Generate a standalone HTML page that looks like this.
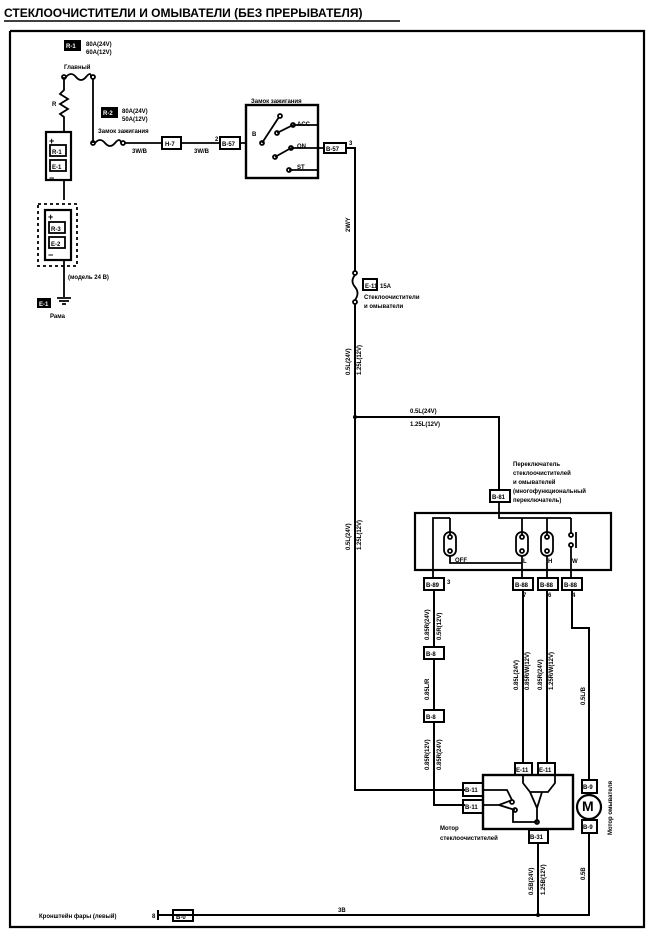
<!DOCTYPE html>
<html><head><meta charset="utf-8"><style>
html,body{margin:0;padding:0;background:#fff}
svg{display:block}
text{font-family:"Liberation Sans",sans-serif;font-weight:bold}
</style></head><body>
<svg width="650" height="938" viewBox="0 0 650 938" xmlns="http://www.w3.org/2000/svg">
<g fill="none" stroke="#000" stroke-width="1.8">
<path d="M10 31H632V31 M10 31V927H644V31H632" stroke-width="2.2"/>
<line x1="4" y1="21" x2="400" y2="21" stroke-width="1.5"/>
<path d="M64 77V90 l-4 4 8 5 -8 5 8 5 -8 5 4 3V133"/>
<circle cx="64" cy="77" r="2"/><circle cx="93" cy="77" r="2"/>
<path d="M66 77 q5 -6 10 0 t10 0 t5 0"/>
<rect x="46" y="132" width="25" height="48" stroke-width="2.2"/>
<rect x="50" y="145" width="16" height="11"/><rect x="50" y="160" width="16" height="11"/>
<path d="M64 180V200"/>
<rect x="38" y="204" width="39" height="62" stroke-dasharray="3,3"/>
<rect x="45" y="210" width="26" height="50" stroke-width="2.2"/>
<rect x="49" y="222" width="16" height="11"/><rect x="49" y="237" width="16" height="11"/>
<path d="M64 260V297"/>
<path d="M57 298H71 M59 301H69 M62 304H66"/>
<path d="M93 79V143"/>
<circle cx="93" cy="143" r="2"/><circle cx="123" cy="143" r="2"/>
<path d="M95 143 q5 -6 10 0 t10 0 t6 0"/>
<path d="M125 143H162 M181 143H220 M240 143H246"/>
<rect x="162" y="137" width="19" height="12" stroke-width="2"/>
<rect x="220" y="137" width="20" height="12" stroke-width="2"/>
<rect x="246" y="105" width="72" height="73" stroke-width="2.4"/>
<path d="M262 143 L279 117 M277 133 L293 125 M275 157 L291 148 M293 125H318 M291 148H324 M289 170H318"/>
<circle cx="262" cy="143" r="2"/><circle cx="280" cy="116" r="2"/><circle cx="277" cy="133" r="2"/><circle cx="293" cy="125" r="2"/><circle cx="275" cy="157" r="2"/><circle cx="291" cy="148" r="2"/><circle cx="289" cy="170" r="2"/>
<rect x="324" y="143" width="22" height="10" stroke-width="2"/>
<path d="M346 148H355V272" stroke-width="2"/>
<circle cx="355" cy="273" r="2"/><circle cx="355" cy="302" r="2"/>
<path d="M355 275 q-5 6 0 12 t0 13"/>
<rect x="363" y="279" width="14" height="11" stroke-width="2"/>
<path d="M355 304V790H465" stroke-width="2"/>
<path d="M355 417H499V490" stroke-width="2"/>
<rect x="490" y="490" width="20" height="12" stroke-width="2"/>
<rect x="415" y="513" width="196" height="57" stroke-width="2.2"/>
<path d="M499 502V518H571 M450 518H433V578 M450 518V535 M522 518V535 M547 518V535"/>
<rect x="444" y="532" width="12" height="24" rx="6"/><circle cx="450" cy="537" r="2"/><circle cx="450" cy="551" r="2"/>
<rect x="516" y="532" width="12" height="24" rx="6"/><circle cx="522" cy="537" r="2"/><circle cx="522" cy="551" r="2"/>
<rect x="541" y="532" width="12" height="24" rx="6"/><circle cx="547" cy="537" r="2"/><circle cx="547" cy="551" r="2"/>
<circle cx="571" cy="535" r="2"/><circle cx="571" cy="545" r="2"/><path d="M571 518V533 M571 547V578 M576 532V548"/>
<path d="M450 556V563H522 M522 556V578 M547 556V578"/>
<rect x="424" y="578" width="20" height="12" stroke-width="2"/>
<rect x="513" y="578" width="20" height="12" stroke-width="2"/>
<rect x="538" y="578" width="20" height="12" stroke-width="2"/>
<rect x="562" y="578" width="20" height="12" stroke-width="2"/>
<path d="M434 590V647 M434 659V710 M434 722V805H465" stroke-width="2"/>
<rect x="424" y="647" width="20" height="12" stroke-width="2"/>
<rect x="424" y="710" width="20" height="12" stroke-width="2"/>
<path d="M523 590V763 M547 590V763" stroke-width="2"/>
<path d="M572 590V628H589V780" stroke-width="2"/>
<rect x="483" y="775" width="90" height="54" stroke-width="2.4"/>
<rect x="463" y="783" width="20" height="13" stroke-width="2"/>
<rect x="463" y="800" width="20" height="13" stroke-width="2"/>
<rect x="515" y="763" width="17" height="12" stroke-width="2"/>
<rect x="538" y="763" width="17" height="12" stroke-width="2"/>
<path d="M523 775V783 L530 792 H548 L555 783 V775 M530 792 L537 808 L542 792 M537 808V822H513V810 M483 805H499 L512 800 M499 805 L515 810 M483 790H507 L512 800"/>
<circle cx="512" cy="802" r="2"/><circle cx="515" cy="810" r="2"/><circle cx="537" cy="822" r="2"/>
<rect x="529" y="830" width="19" height="13" stroke-width="2"/>
<path d="M538 843V915" stroke-width="2"/>
<rect x="582" y="780" width="15" height="13" stroke-width="2"/>
<circle cx="589" cy="807" r="12" stroke-width="2.2"/>
<rect x="582" y="820" width="15" height="13" stroke-width="2"/>
<path d="M589 833V915H158 M158 910V920" stroke-width="2"/>
<rect x="173" y="910" width="20" height="11" stroke-width="2"/>
</g>
<g fill="#000">
<rect x="64" y="40" width="17" height="11"/><rect x="101" y="107" width="17" height="11"/>
<rect x="37" y="298" width="14" height="10"/>
<circle cx="355" cy="417" r="2"/><circle cx="538" cy="915" r="2"/>
</g>
<g font-size="6" style="fill:#fff">
<text x="66" y="48">R-1</text><text x="103" y="115">R-2</text><text x="39" y="306">E-1</text>
</g>
<g font-size="6" style="fill:#000">
<text x="52" y="154">R-1</text><text x="52" y="169">E-1</text>
<text x="51" y="231">R-3</text><text x="51" y="246">E-2</text>
<text x="49" y="144" font-size="9">+</text><text x="49" y="181" font-size="9">−</text>
<text x="48" y="220" font-size="9">+</text><text x="48" y="258" font-size="9">−</text>
<text x="86" y="46">80A(24V)</text><text x="86" y="54">60A(12V)</text>
<text x="64" y="69">Главный</text>
<text x="52" y="106">R</text>
<text x="122" y="113">80A(24V)</text><text x="122" y="121">50A(12V)</text>
<text x="98" y="133">Замок зажигания</text>
<text x="132" y="153">3W/B</text><text x="194" y="153">3W/B</text>
<text x="165" y="146">H-7</text><text x="222" y="146">B-57</text><text x="326" y="151">B-57</text>
<text x="215" y="141">2</text><text x="349" y="145">3</text>
<text x="251" y="103">Замок зажигания</text>
<text x="252" y="136">B</text><text x="297" y="126">ACC</text><text x="297" y="148">ON</text><text x="297" y="169">ST</text>
<text x="68" y="279">(модель 24 В)</text>
<text x="50" y="318">Рама</text>
<text x="365" y="288">E-11</text><text x="380" y="288">15A</text>
<text x="364" y="299">Стеклоочистители</text><text x="364" y="308">и омыватели</text>
<text x="410" y="413">0.5L(24V)</text><text x="410" y="426">1.25L(12V)</text>
<text x="513" y="466">Переключатель</text><text x="513" y="475">стеклоочистителей</text><text x="513" y="484">и омывателей</text><text x="513" y="493">(многофункциональный</text><text x="513" y="502">переключатель)</text>
<text x="492" y="499">B-81</text>
<text x="455" y="562">OFF</text><text x="523" y="563">L</text><text x="548" y="563">H</text><text x="572" y="563">W</text>
<text x="426" y="587">B-89</text><text x="515" y="587">B-88</text><text x="540" y="587">B-88</text><text x="564" y="587">B-88</text>
<text x="447" y="584">3</text><text x="523" y="597">7</text><text x="548" y="597">6</text><text x="572" y="597">4</text>
<text x="426" y="656">B-8</text><text x="426" y="719">B-8</text>
<text x="465" y="792">B-11</text><text x="465" y="809">B-11</text><text x="516" y="772">E-11</text><text x="539" y="772">E-11</text>
<text x="530" y="839">B-31</text><text x="583" y="789">B-9</text><text x="583" y="829">B-9</text>
<text x="582" y="811" font-size="14">M</text>
<text x="440" y="830">Мотор</text><text x="440" y="840">стеклоочистителей</text>
<text x="39" y="918">Кронштейн фары (левый)</text><text x="152" y="918">8</text>
<text x="176" y="919">B-0</text><text x="338" y="912">3B</text>
<text transform="translate(350,232) rotate(-90)">2W/Y</text>
<text transform="translate(350,375) rotate(-90)">0.5L(24V)</text><text transform="translate(361,375) rotate(-90)">1.25L(12V)</text>
<text transform="translate(350,550) rotate(-90)">0.5L(24V)</text><text transform="translate(361,550) rotate(-90)">1.25L(12V)</text>
<text transform="translate(429,640) rotate(-90)">0.85R(24V)</text><text transform="translate(441,640) rotate(-90)">0.5R(12V)</text>
<text transform="translate(429,700) rotate(-90)">0.85L/R</text>
<text transform="translate(429,770) rotate(-90)">0.85R(12V)</text><text transform="translate(441,770) rotate(-90)">0.85R(24V)</text>
<text transform="translate(518,690) rotate(-90)">0.85L(24V)</text><text transform="translate(529,690) rotate(-90)">0.85R/W(12V)</text>
<text transform="translate(542,690) rotate(-90)">0.85R(24V)</text><text transform="translate(553,690) rotate(-90)">1.25R/W(12V)</text>
<text transform="translate(585,705) rotate(-90)">0.5L/B</text>
<text transform="translate(533,895) rotate(-90)">0.5B(24V)</text><text transform="translate(545,895) rotate(-90)">1.25B(12V)</text>
<text transform="translate(585,880) rotate(-90)">0.5B</text>
<text transform="translate(612,835) rotate(-90)">Мотор омывателя</text>
</g>
<text x="4" y="17" font-size="12" style="fill:#000">СТЕКЛООЧИСТИТЕЛИ И ОМЫВАТЕЛИ (БЕЗ ПРЕРЫВАТЕЛЯ)</text>
</svg>
</body></html>
